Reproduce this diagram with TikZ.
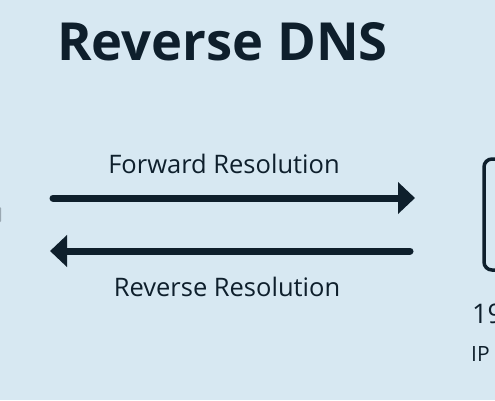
\documentclass[tikz,border=0pt]{standalone}
\usepackage{fontspec}
\setmainfont{Open Sans}
\usetikzlibrary{arrows.meta}
\definecolor{bg}{HTML}{D7E8F2}
\definecolor{ink}{HTML}{0E1F2C}
\definecolor{sliver}{HTML}{9AA8B2}
\begin{document}
\begin{tikzpicture}[x=1pt,y=-1pt,
  arrowline/.style={ink,line width=7pt,line cap=round,-{Triangle[length=17pt,width=31pt]}},
  lbl/.style={text=ink,font=\fontsize{25.5}{28}\selectfont,inner sep=0pt}]
\fill[bg] (0,0) rectangle (495,400);
\useasboundingbox (0,0) rectangle (495,400);
\begin{scope}
\clip (0,0) rectangle (495,400);
\node[text=ink,font=\fontsize{52.5}{60}\bfseries,anchor=base west,inner sep=0pt] (title) at (57,60) {Reverse DNS};
\coordinate (fs) at (53,198);
\coordinate (fe) at (415,198);
\coordinate (rs) at (410,251);
\coordinate (re) at (50,251);
\draw[arrowline] (fs) -- (fe);
\draw[arrowline] (rs) -- (re);
\node[lbl,anchor=base] (fwd) at (224,173) {Forward Resolution};
\node[lbl,anchor=base] (rev) at (227,296) {Reverse Resolution};
\draw[ink,line width=3.5pt,rounded corners=8pt] (484,159) rectangle (530,270);
\node[lbl,anchor=base west,font=\fontsize{27}{30}\selectfont] (ip) at (472,323) {19};
\node[lbl,anchor=base west,font=\fontsize{21}{24}\selectfont] (iplbl) at (471,361) {IP};
\fill[sliver,rounded corners=1pt] (-4,207) rectangle (1,222);
\end{scope}
\end{tikzpicture}
\end{document}
